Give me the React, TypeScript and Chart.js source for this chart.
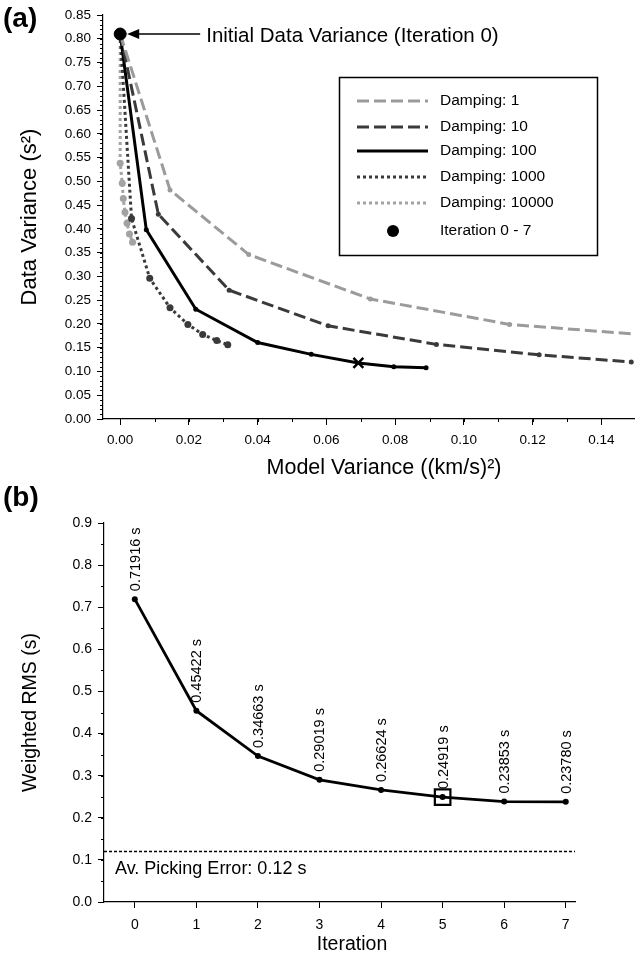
import React, { useEffect, useRef } from 'react';
import { Chart, registerables } from 'chart.js';

Chart.register(...registerables);

const FONT = '"Liberation Sans", Arial, Helvetica, sans-serif';

// ---------- Panel (a) data ----------
const seriesNames = ['Damping: 1', 'Damping: 10', 'Damping: 100', 'Damping: 1000', 'Damping: 10000'];
const damping1X = [0, 0.0145, 0.0374, 0.0728, 0.1133, 0.16];
const damping1Y = [0.81, 0.482, 0.346, 0.2525, 0.199, 0.173];
const damping10X = [0, 0.0111, 0.0317, 0.0605, 0.092, 0.1219, 0.1487];
const damping10Y = [0.81, 0.431, 0.271, 0.196, 0.157, 0.135, 0.12];
const damping100X = [0, 0.0076, 0.022, 0.04, 0.0556, 0.0693, 0.0796, 0.089];
const damping100Y = [0.81, 0.398, 0.231, 0.161, 0.136, 0.118, 0.11, 0.108];
const damping1000X = [0, 0.0033, 0.0086, 0.0145, 0.0197, 0.024, 0.0281, 0.0313];
const damping1000Y = [0.81, 0.422, 0.296, 0.234, 0.199, 0.178, 0.165, 0.156];
const damping10000X = [0, 0.0, 0.0006, 0.0009, 0.0014, 0.002, 0.0027, 0.0036];
const damping10000Y = [0.81, 0.538, 0.496, 0.464, 0.435, 0.412, 0.389, 0.372];
const xTicksA = [0, 0.02, 0.04, 0.06, 0.08, 0.1, 0.12, 0.14];
const yTicksA = [0, 0.05, 0.1, 0.15, 0.2, 0.25, 0.3, 0.35, 0.4, 0.45, 0.5, 0.55, 0.6, 0.65, 0.7, 0.75, 0.8, 0.85];
const markedIteration = 5;
const annotationText = 'Initial Data Variance (Iteration 0)';
const legendPointText = 'Iteration 0 - 7';
const xTitleA = 'Model Variance ((km/s)²)';
const yTitleA = 'Data Variance (s²)';

// ---------- Panel (b) data ----------
const iterations = [0, 1, 2, 3, 4, 5, 6, 7];
const weightedRms = [0.71916, 0.45422, 0.34663, 0.29019, 0.26624, 0.24919, 0.23853, 0.2378];
const yTicksB = [0, 0.1, 0.2, 0.3, 0.4, 0.5, 0.6, 0.7, 0.8, 0.9];
const pickingError = 0.12;
const pickingLabel = 'Av. Picking Error: 0.12 s';
const xTitleB = 'Iteration';
const yTitleB = 'Weighted RMS (s)';

const seriesX = [damping1X, damping10X, damping100X, damping1000X, damping10000X];
const seriesY = [damping1Y, damping10Y, damping100Y, damping1000Y, damping10000Y];

const styles = [
  { color: '#9b9b9b', dash: [12, 5], r: 2.5 },
  { color: '#3a3a3a', dash: [12, 5], r: 2.5 },
  { color: '#000000', dash: [], r: 2.5 },
  { color: '#3a3a3a', dash: [3, 3], r: 3.5 },
  { color: '#a3a3a3', dash: [3, 3], r: 3.5 },
];

function drawMinorTicks(ctx: CanvasRenderingContext2D, chart: any, axis: 'x' | 'y', min: number, max: number, step: number, len: number) {
  const scale = chart.scales[axis];
  const area = chart.chartArea;
  ctx.save();
  ctx.strokeStyle = '#000';
  ctx.lineWidth = 1;
  ctx.beginPath();
  const n = Math.round((max - min) / step);
  for (let i = 0; i <= n; i++) {
    const v = min + i * step;
    const p = Math.round(scale.getPixelForValue(v)) + 0.5;
    if (axis === 'x') {
      if (p < area.left || p > area.right + 1) continue;
      ctx.moveTo(p, area.bottom);
      ctx.lineTo(p, area.bottom + len);
    } else {
      if (p < area.top - 1 || p > area.bottom + 1) continue;
      ctx.moveTo(area.left, p);
      ctx.lineTo(area.left - len, p);
    }
  }
  ctx.stroke();
  ctx.restore();
}

export default function App() {
  const refA = useRef<HTMLCanvasElement>(null);
  const refB = useRef<HTMLCanvasElement>(null);

  useEffect(() => {
    if (!refA.current || !refB.current) return;

    const datasetsA: any[] = [
      {
        label: 'Iteration 0',
        data: [{ x: damping100X[0], y: damping100Y[0] }],
        showLine: false,
        pointRadius: 6,
        pointBackgroundColor: '#000',
        pointBorderColor: '#000',
      },
    ];
    seriesNames.forEach((name, i) => {
      const st = styles[i];
      datasetsA.push({
        label: name,
        data: seriesX[i].map((x, k) => ({ x, y: seriesY[i][k] })),
        showLine: true,
        borderColor: st.color,
        borderWidth: 3,
        borderDash: st.dash,
        borderCapStyle: 'butt',
        borderJoinStyle: 'miter',
        tension: 0,
        pointRadius: (c: any) => (i === 2 && c.dataIndex === markedIteration ? 7 : st.r),
        pointStyle: (c: any) => (i === 2 && c.dataIndex === markedIteration ? 'crossRot' : 'circle'),
        pointBorderWidth: (c: any) => (i === 2 && c.dataIndex === markedIteration ? 2.5 : 0),
        pointBackgroundColor: st.color,
        pointBorderColor: st.color,
      });
    });

    const annotA = {
      id: 'annotA',
      afterDraw(chart: any) {
        const ctx = chart.ctx as CanvasRenderingContext2D;
        drawMinorTicks(ctx, chart, 'y', 0, 0.85, 0.01, 3);
        drawMinorTicks(ctx, chart, 'x', -0.0, 0.15, 0.01, 3);
        ctx.save();
        ctx.fillStyle = '#000';
        ctx.font = `bold 28px ${FONT}`;
        ctx.textBaseline = 'middle';
        ctx.textAlign = 'left';
        ctx.fillText('(a)', 3, 19);
        // x title
        ctx.font = `21.5px ${FONT}`;
        ctx.textAlign = 'center';
        ctx.fillText(xTitleA, 384, 468);
        ctx.textAlign = 'left';
        // arrow annotation
        const px = chart.scales.x.getPixelForValue(damping100X[0]);
        const py = chart.scales.y.getPixelForValue(damping100Y[0]);
        ctx.strokeStyle = '#000';
        ctx.lineWidth = 1.5;
        ctx.beginPath();
        ctx.moveTo(px + 80, py);
        ctx.lineTo(px + 16, py);
        ctx.stroke();
        ctx.beginPath();
        ctx.moveTo(px + 7, py);
        ctx.lineTo(px + 19, py - 5);
        ctx.lineTo(px + 19, py + 5);
        ctx.closePath();
        ctx.fill();
        ctx.font = `20.5px ${FONT}`;
        ctx.fillText(annotationText, px + 86, py + 2);
        // legend box
        const bx = 339.5, by = 77.5, bw = 258, bh = 178;
        ctx.lineWidth = 1.5;
        ctx.strokeRect(bx, by, bw, bh);
        const rows = [101, 127, 151, 177, 203];
        ctx.font = `15.5px ${FONT}`;
        seriesNames.forEach((name, i) => {
          const st = styles[i];
          ctx.save();
          ctx.strokeStyle = st.color;
          ctx.lineWidth = 3;
          ctx.setLineDash(st.dash);
          ctx.beginPath();
          ctx.moveTo(357, rows[i]);
          ctx.lineTo(428, rows[i]);
          ctx.stroke();
          ctx.restore();
          ctx.fillStyle = '#000';
          ctx.fillText(name, 440, rows[i]);
        });
        ctx.beginPath();
        ctx.arc(393, 231, 6, 0, Math.PI * 2);
        ctx.fill();
        ctx.fillText(legendPointText, 440, 231);
        ctx.restore();
      },
    };

    const chartA = new Chart(refA.current, {
      type: 'scatter',
      data: { datasets: datasetsA },
      options: {
        animation: false,
        responsive: false,
        devicePixelRatio: 1,
        layout: { padding: { top: 15, right: 0, left: 0, bottom: 0 } },
        plugins: { legend: { display: false }, tooltip: { enabled: false } },
        scales: {
          x: {
            type: 'linear',
            min: -0.005,
            max: 0.1495,
            afterBuildTicks: (s: any) => { s.ticks = xTicksA.map((v) => ({ value: v })); },
            afterFit: (s: any) => { s.height = 61; },
            ticks: { font: { family: FONT, size: 13.5 }, color: '#000', padding: 7, autoSkip: false, maxRotation: 0, callback: (v: any) => Number(v).toFixed(2) },
            grid: { display: true, drawOnChartArea: false, drawTicks: true, tickLength: 6, color: '#000', lineWidth: 1 },
            border: { display: true, color: '#000', width: 1.2 },
            title: { display: false },
          },
          y: {
            type: 'linear',
            min: 0,
            max: 0.85,
            afterBuildTicks: (s: any) => { s.ticks = yTicksA.map((v) => ({ value: v })); },
            afterFit: (s: any) => { s.width = 103; },
            ticks: { font: { family: FONT, size: 13.5 }, color: '#000', padding: 6, autoSkip: false, callback: (v: any) => Number(v).toFixed(2) },
            grid: { display: true, drawOnChartArea: false, drawTicks: true, tickLength: 6, color: '#000', lineWidth: 1 },
            border: { display: true, color: '#000', width: 1.2 },
            title: { display: true, text: yTitleA, font: { family: FONT, size: 22 }, color: '#000', padding: { top: 17, bottom: 0 } },
          },
        },
      },
      plugins: [annotA],
    } as any);

    const annotB = {
      id: 'annotB',
      afterDatasetsDraw(chart: any) {
        const ctx = chart.ctx as CanvasRenderingContext2D;
        const area = chart.chartArea;
        drawMinorTicks(ctx, chart, 'y', 0, 0.9, 0.05, 3);
        ctx.save();
        ctx.fillStyle = '#000';
        ctx.font = `bold 28px ${FONT}`;
        ctx.textBaseline = 'middle';
        ctx.textAlign = 'left';
        ctx.fillText('(b)', 3, 18);
        // x title
        ctx.font = `19.5px ${FONT}`;
        ctx.textAlign = 'center';
        ctx.fillText(xTitleB, 352, 465);
        ctx.textAlign = 'left';
        // picking error line
        const ly = Math.round(chart.scales.y.getPixelForValue(pickingError)) + 0.5;
        ctx.strokeStyle = '#000';
        ctx.lineWidth = 1.3;
        ctx.setLineDash([3, 2]);
        ctx.beginPath();
        ctx.moveTo(area.left, ly);
        ctx.lineTo(area.right, ly);
        ctx.stroke();
        ctx.setLineDash([]);
        ctx.font = `18px ${FONT}`;
        ctx.fillText(pickingLabel, area.left + 11, ly + 18);
        // value labels
        ctx.font = `14.5px ${FONT}`;
        iterations.forEach((it, i) => {
          const x = chart.scales.x.getPixelForValue(it);
          const y = chart.scales.y.getPixelForValue(weightedRms[i]);
          ctx.save();
          ctx.translate(x + 1, y - 8);
          ctx.rotate(-Math.PI / 2);
          ctx.textAlign = 'left';
          ctx.textBaseline = 'middle';
          ctx.fillText(weightedRms[i].toFixed(5) + ' s', 0, 0);
          ctx.restore();
        });
        ctx.restore();
      },
    };

    const chartB = new Chart(refB.current, {
      type: 'scatter',
      data: {
        datasets: [
          {
            label: 'Selected',
            data: [{ x: iterations[markedIteration], y: weightedRms[markedIteration] }],
            showLine: false,
            pointStyle: 'rect',
            pointRadius: 11,
            pointBorderWidth: 2.2,
            pointBorderColor: '#000',
            pointBackgroundColor: 'rgba(0,0,0,0)',
          },
          {
            label: 'Weighted RMS',
            data: iterations.map((x, i) => ({ x, y: weightedRms[i] })),
            showLine: true,
            borderColor: '#000',
            borderWidth: 2.8,
            tension: 0,
            pointRadius: 3,
            pointBorderWidth: 0,
            pointBackgroundColor: '#000',
          },
        ],
      },
      options: {
        animation: false,
        responsive: false,
        devicePixelRatio: 1,
        layout: { padding: { top: 43, right: 66, left: 0, bottom: 0 } },
        plugins: { legend: { display: false }, tooltip: { enabled: false } },
        scales: {
          x: {
            type: 'linear',
            min: -0.5,
            max: 7.15,
            afterBuildTicks: (s: any) => { s.ticks = iterations.map((v) => ({ value: v })); },
            afterFit: (s: any) => { s.height = 65; },
            ticks: { font: { family: FONT, size: 14 }, color: '#000', padding: 9, autoSkip: false, maxRotation: 0, callback: (v: any) => String(v) },
            grid: { display: true, drawOnChartArea: false, drawTicks: true, tickLength: 6, color: '#000', lineWidth: 1 },
            border: { display: true, color: '#000', width: 1.2 },
            title: { display: false },
          },
          y: {
            type: 'linear',
            min: 0,
            max: 0.9,
            afterBuildTicks: (s: any) => { s.ticks = yTicksB.map((v) => ({ value: v })); },
            afterFit: (s: any) => { s.width = 104; },
            ticks: { font: { family: FONT, size: 14 }, color: '#000', padding: 6, autoSkip: false, callback: (v: any) => Number(v).toFixed(1) },
            grid: { display: true, drawOnChartArea: false, drawTicks: true, tickLength: 6, color: '#000', lineWidth: 1 },
            border: { display: true, color: '#000', width: 1.2 },
            title: { display: true, text: yTitleB, font: { family: FONT, size: 19.5 }, color: '#000', padding: { top: 19, bottom: 0 } },
          },
        },
      },
      plugins: [annotB],
    } as any);

    return () => {
      chartA.destroy();
      chartB.destroy();
    };
  }, []);

  return (
    <div style={{ position: 'absolute', left: 0, top: 0, width: 641, height: 967, background: '#fff' }}>
      <canvas ref={refA} width={641} height={480} style={{ position: 'absolute', left: 0, top: 0, width: 641, height: 480 }} />
      <canvas ref={refB} width={641} height={487} style={{ position: 'absolute', left: 0, top: 480, width: 641, height: 487 }} />
    </div>
  );
}
